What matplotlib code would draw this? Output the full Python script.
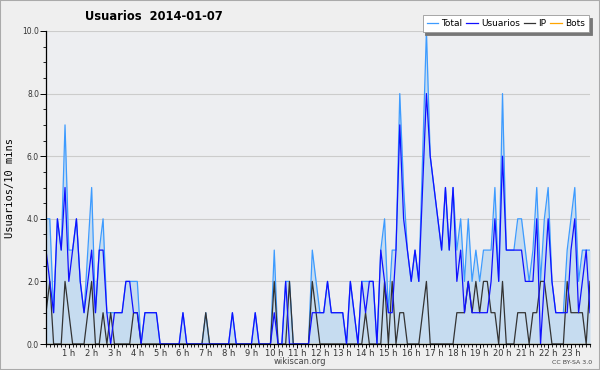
import numpy as np
import matplotlib
matplotlib.use("Agg")
import matplotlib.pyplot as plt
from matplotlib.ticker import MultipleLocator, FixedLocator, FixedFormatter

# ============================
# Dados (10 min por ponto, 6 pontos por hora)
# ============================
usuarios = [
    3, 2, 1, 4, 3, 5,   2, 3, 4, 2, 1, 2,   3, 1, 3, 3, 1, 0,   1, 1, 1, 2, 2, 1,
    1, 0, 1, 1, 1, 1,   0, 0, 0, 0, 0, 0,   1, 0, 0, 0, 0, 0,   0, 0, 0, 0, 0, 0,
    0, 1, 0, 0, 0, 0,   0, 1, 0, 0, 0, 0,   1, 0, 0, 2, 0, 0,   0, 0, 0, 0, 1, 1,
    1, 1, 2, 1, 1, 1,   1, 0, 2, 1, 0, 2,   1, 2, 2, 0, 3, 2,   1, 1, 3, 7, 4, 3,
    2, 3, 2, 5, 8, 6,   5, 4, 3, 5, 3, 5,   2, 3, 1, 2, 1, 1,   1, 1, 1, 2, 4, 2,
    6, 3, 3, 3, 3, 3,   2, 2, 2, 4, 0, 2,   4, 2, 1, 1, 1, 1,   3, 4, 1, 2, 3, 1,
]
ip = [
    1, 2, 0, 0, 0, 2,   1, 0, 0, 0, 0, 1,   2, 0, 0, 1, 0, 1,   0, 0, 0, 0, 0, 1,
    1, 0, 0, 0, 0, 0,   0, 0, 0, 0, 0, 0,   0, 0, 0, 0, 0, 0,   1, 0, 0, 0, 0, 0,
    0, 0, 0, 0, 0, 0,   0, 0, 0, 0, 0, 0,   2, 0, 0, 0, 2, 0,   0, 0, 0, 0, 2, 1,
    0, 0, 0, 0, 0, 0,   0, 0, 0, 0, 0, 0,   1, 0, 0, 0, 0, 2,   0, 2, 0, 1, 1, 0,
    0, 0, 0, 1, 2, 0,   0, 0, 0, 0, 0, 0,   1, 1, 1, 2, 1, 2,   1, 2, 2, 1, 1, 0,
    2, 0, 0, 0, 1, 1,   1, 0, 1, 1, 2, 2,   1, 0, 0, 0, 0, 2,   1, 1, 1, 1, 0, 2,
]
total = [
    4, 4, 1, 4, 3, 7,   3, 3, 4, 2, 1, 3,   5, 1, 3, 4, 1, 1,   1, 1, 1, 2, 2, 2,
    2, 0, 1, 1, 1, 1,   0, 0, 0, 0, 0, 0,   1, 0, 0, 0, 0, 0,   1, 0, 0, 0, 0, 0,
    0, 1, 0, 0, 0, 0,   0, 1, 0, 0, 0, 0,   3, 0, 0, 2, 2, 0,   0, 0, 0, 0, 3, 2,
    1, 1, 2, 1, 1, 1,   1, 0, 2, 1, 0, 2,   2, 2, 2, 0, 3, 4,   1, 3, 3, 8, 5, 3,
    2, 3, 2, 6, 10, 6,  5, 4, 3, 5, 3, 5,   3, 4, 2, 4, 2, 3,   2, 3, 3, 3, 5, 2,
    8, 3, 3, 3, 4, 4,   3, 2, 3, 5, 2, 4,   5, 2, 1, 1, 1, 3,   4, 5, 2, 3, 3, 3,
]
bots = [0] * 144

horas = list(range(1, 24))
rotulos_horas = [f"{h} h" for h in horas]

# ============================
# Estilo
# ============================
COR_FUNDO = "#efefef"
COR_EIXO = "#edeef1"
COR_TOTAL = "#3d9bff"
COR_FILL = "#c6dcf0"
COR_USU = "#1010ff"
COR_IP = "#333333"
COR_BOTS = "#ffa500"

x = np.arange(len(total))

fig = plt.figure(figsize=(6.0, 3.7), dpi=100, facecolor=COR_FUNDO)
ax = fig.add_axes([46 / 600, 26 / 370, 544 / 600, 313 / 370])
ax.set_facecolor(COR_EIXO)

# Grade horizontal
for yv in [2, 4, 6, 8, 10]:
    ax.axhline(yv, color="#cccccc", linewidth=0.8, zorder=1)

ax.fill_between(x, total, 0, color=COR_FILL, linewidth=0, zorder=2)
ax.plot(x, bots, color=COR_BOTS, linewidth=0.9, zorder=3, label="Bots")
ax.plot(x, total, color=COR_TOTAL, linewidth=0.9, zorder=4, label="Total")
ax.plot(x, ip, color=COR_IP, linewidth=0.9, zorder=5, label="IP")
ax.plot(x, usuarios, color=COR_USU, linewidth=0.9, zorder=6, label="Usuarios")

ax.set_xlim(0, 143)
ax.set_ylim(0, 10)

for s in ["top", "right"]:
    ax.spines[s].set_visible(False)
for s in ["left", "bottom"]:
    ax.spines[s].set_linewidth(0.9)
    ax.spines[s].set_zorder(7)

ax.xaxis.set_major_locator(FixedLocator([6 * h for h in horas]))
ax.xaxis.set_major_formatter(FixedFormatter(rotulos_horas))
ax.xaxis.set_minor_locator(MultipleLocator(1))
ax.yaxis.set_major_locator(MultipleLocator(2))
ax.yaxis.set_minor_locator(MultipleLocator(0.5))
ax.yaxis.set_major_formatter(matplotlib.ticker.FormatStrFormatter("%.1f"))

ax.tick_params(axis="x", which="major", length=3, width=0.7, pad=0.5,
               labelsize=6, labelcolor="#333333")
ax.tick_params(axis="x", which="minor", length=2, width=0.6)
ax.tick_params(axis="y", which="major", length=4, width=0.7, pad=1,
               labelsize=5.5, labelcolor="#333333")
ax.tick_params(axis="y", which="minor", length=2, width=0.6)

ax.set_ylabel("Usuarios/10 mins", fontsize=7.5, family="DejaVu Sans Mono",
              labelpad=5)

fig.text(85 / 600, 1 - 17 / 370, "Usuarios  2014-01-07", fontsize=8.3,
         fontweight="bold", va="center", ha="left")

handles, labels = ax.get_legend_handles_labels()
ordem = ["Total", "Usuarios", "IP", "Bots"]
hs = [handles[labels.index(n)] for n in ordem]
leg = fig.legend(hs, ordem, loc="upper right", ncol=4,
                 bbox_to_anchor=(589 / 600, 1 - 15 / 370),
                 fontsize=6.5, frameon=True, fancybox=False,
                 shadow={"color": "#777777", "alpha": 1.0},
                 handlelength=1.3, handletextpad=0.35, columnspacing=0.4,
                 borderpad=0.45, borderaxespad=0)
leg.get_frame().set_edgecolor("#999999")
leg.get_frame().set_linewidth(0.6)
leg.get_frame().set_facecolor("white")

fig.text(0.5, 1 - 362 / 370, "wikiscan.org", fontsize=6, ha="center",
         va="center", color="#444444")
fig.text(592 / 600, 1 - 362 / 370, "CC BY-SA 3.0", fontsize=4.5, ha="right",
         va="center", color="#444444")

# borda da figura
fig.patches.append(plt.Rectangle((0, 0), 1, 1, transform=fig.transFigure,
                                 fill=False, edgecolor="#aaaaaa", linewidth=1.5))

fig.savefig("out.png", dpi=100, facecolor=COR_FUNDO)
plt.close(fig)
